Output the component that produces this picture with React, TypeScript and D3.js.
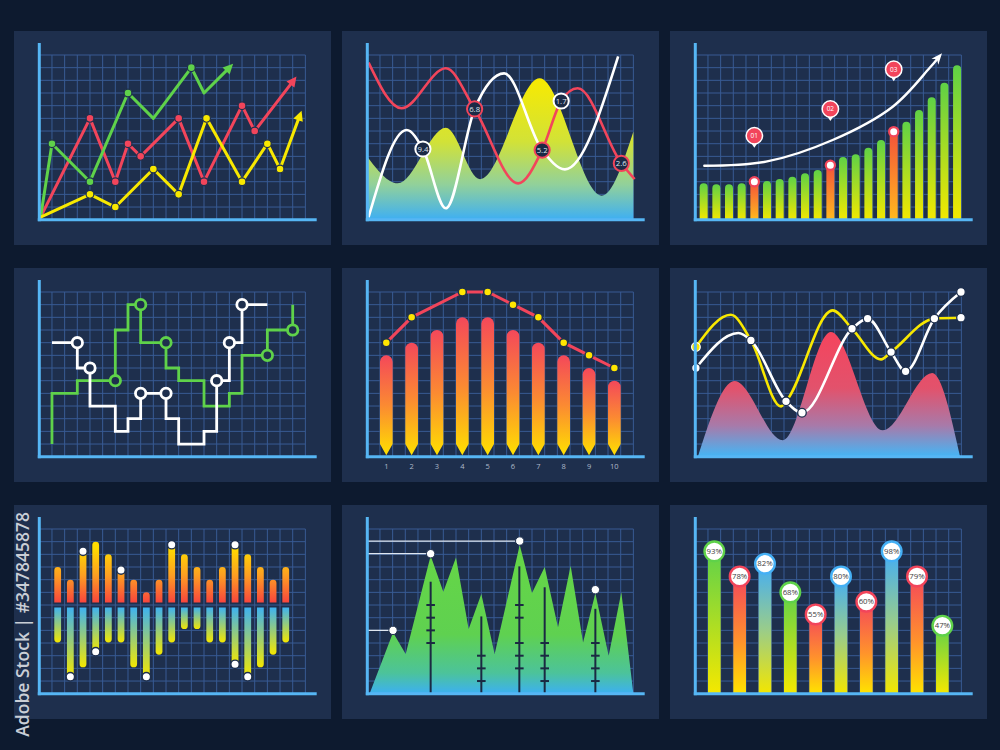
import React from 'react';
import * as d3 from 'd3';

// ---------- layout constants ----------
const W = 1000, H = 750;
const PANEL_W = 317, PANEL_H = 214;
const COLS = [14, 342, 670];
const ROWS = [31, 268, 505];
const GRID_COLS = 21, GRID_ROWS = 13;
const GX0 = 25.3, GY0 = 24, CELL = 12.67;

const PAGE_BG = '#0d1a2f';
const PANEL_BG = '#1e2f4d';
const GRID = '#385b94';
const AXIS = '#56b6f4';
const GREEN = '#5fd24a';
const RED = '#f2455b';
const YELLOW = '#f8e800';
const BLUE = '#45b0f5';

const x = d3.scaleLinear().domain([0, GRID_COLS]).range([GX0, GX0 + GRID_COLS * CELL]);
const y = d3.scaleLinear().domain([0, GRID_ROWS]).range([GY0 + GRID_ROWS * CELL, GY0]);

// ---------- data (grid units) ----------
// Panel 1: arrow line chart
const p1Green = [[0.1, 0.2], [1, 6], [4, 3], [7, 10], [9, 8], [12, 12], [13, 10], [15.3, 12.3]];
const p1GreenDots = [1, 2, 3, 5];
const p1Red = [[0.1, 0.2], [4, 8], [6, 3], [7, 6], [8, 5], [11, 8], [13, 3], [16, 9], [17, 7], [20.3, 11.3]];
const p1RedDots = [1, 2, 3, 4, 5, 6, 7, 8];
const p1Yellow = [[0.1, 0.2], [4, 2], [6, 1], [9, 4], [11, 2], [13.2, 8], [16, 3], [18, 6], [19, 4], [20.7, 8.6]];
const p1YellowDots = [1, 2, 3, 4, 5, 6, 7, 8];

// Panel 2: waves with area
const p2Area = [[0, 4.97], [2.4, 2.87], [6.2, 7.26], [8.9, 3.2], [13.6, 11.16], [18.5, 1.9], [21, 6.95]];
const p2White = [[0.1, 0.2], [3.1, 7.08], [4.39, 5.58], [6.2, 0.9], [8.47, 8.74], [10.8, 11.55], [13.8, 5.5], [15.6, 3.97], [19.8, 12.9]];
const p2Red = [[0.1, 12.4], [2.7, 8.8], [6.2, 11.95], [8.47, 8.74], [11.9, 2.87], [13.8, 5.5], [15.3, 9.37], [16.6, 10.37], [20.05, 4.45], [21.1, 3.2]];
const p2LabelX = [4.39, 8.47, 13.8, 15.3, 20.05];
const p2LabelY = [5.58, 8.74, 5.5, 9.37, 4.45];
const p2LabelText = ['9.4', '6.8', '5.2', '1.7', '2.6'];
const p2LabelRing = ['white', 'red', 'red', 'white', 'red'];

// Panel 3: growth bars
const p3Bars = [2.87, 2.79, 2.79, 2.87, 3.0, 3.05, 3.21, 3.39, 3.66, 3.92, 4.3, 4.95, 5.16, 5.68, 6.29, 6.95, 7.74, 8.66, 9.66, 10.8, 12.2];
const p3Marked = [4, 10, 15];
const p3Trend = [[0.71, 4.26], [5.58, 4.58], [10.84, 6.29], [15.58, 8.92], [18.47, 11.95], [19.47, 13.13]];
const p3PinX = [4.66, 10.66, 15.66];
const p3PinY = [6.63, 8.74, 11.87];
const p3PinText = ['01', '02', '03'];

// Panel 4: step lines
const p4Green = [[1, 1], [1, 5], [3, 5], [3, 6], [6, 6], [6, 10], [7, 10], [7, 12], [8, 12], [8, 9], [10, 9], [10, 7], [11, 7], [11, 6], [13, 6], [13, 4], [15, 4], [15, 5], [16, 5], [16, 8], [18, 8], [18, 10], [20, 10], [20, 12]];
const p4GreenRings = [4, 8, 10, 20, 22];
const p4White = [[1, 9], [3, 9], [3, 7], [4, 7], [4, 4], [6, 4], [6, 2], [7, 2], [7, 3], [8, 3], [8, 5], [10, 5], [10, 3], [11, 3], [11, 1], [13, 1], [13, 2], [14, 2], [14, 6], [15, 6], [15, 9], [16, 9], [16, 12], [18, 12]];
const p4WhiteRings = [1, 3, 10, 11, 18, 20, 22];

// Panel 5: pencil bars with line
const p5Labels = ['1', '2', '3', '4', '5', '6', '7', '8', '9', '10'];
const p5Bars = [8, 9, 10, 11, 11, 10, 9, 8, 7, 6];
const p5LineIdx = [0, 1, 3, 4, 5, 6, 7, 8, 9];
const p5LineVal = [9, 11, 13, 13, 12, 11, 9, 8, 7];

// Panel 6: area + two smooth lines
const p6Area = [[0.2, 0], [3.1, 5.97], [6.9, 1.29], [10.7, 9.84], [14.8, 2.08], [18.7, 6.6], [20.9, 0]];
const p6Yellow = [[0.05, 8.66], [2.8, 11.2], [4.39, 9.18], [6.76, 3.97], [7.16, 4.37], [10.84, 11.55], [12.37, 10.1], [14.66, 7.68], [15.45, 8.26], [18.87, 10.9], [20.97, 10.97]];
const p6White = [[0.05, 7.0], [3.4, 9.76], [4.39, 9.18], [7.16, 4.37], [8.42, 3.47], [12.37, 10.1], [13.6, 10.9], [15.45, 8.26], [16.6, 6.74], [18.87, 10.9], [20.97, 13.0]];
const p6WhiteDots = [0, 2, 3, 4, 5, 6, 7, 8, 9, 10];

// Panel 7: up / down bars
const p7Mid = 7;
const p7Up = [10, 9, 11.24, 12, 11, 9.76, 9, 8, 9, 11.76, 11, 10, 9, 10, 11.76, 11, 10, 9, 10];
const p7UpDots = [2, 5, 9, 14];
const p7Down = [4.05, 1.34, 2.08, 3.32, 4.05, 4.05, 2.08, 1.34, 3.08, 4.05, 5.1, 5.1, 4.05, 4.05, 2.32, 1.34, 2.08, 3.08, 4.05];
const p7DownDots = [1, 3, 7, 14, 15];

// Panel 8: mountains
const p8Area = [[0.18, 0], [2.03, 4.84], [3.03, 3.13], [5, 10.89], [6, 8.05], [7, 10.76], [8, 5.1], [9, 7.87], [10.05, 3.13], [12.03, 11.74], [13, 7.95], [14, 10.0], [15.05, 5.24], [16.05, 10.1], [17.03, 4.05], [18, 7.92], [19.05, 3.0], [20.05, 8.0], [21, 0]];
const p8DotX = [2.03, 5, 12.03, 18];
const p8DotY = [5.0, 11.05, 12.05, 8.21];
const p8LeaderCount = 3;
const p8PoleX = [5, 9, 12, 14, 18];
const p8PoleTop = [8.84, 6.1, 10.05, 8.4, 6.7];
const p8PoleTicks = [[7, 6, 5, 4], [3, 2, 1], [7, 6, 4, 3, 2], [4, 3, 2, 1], [4, 3, 2, 1]];

// Panel 9: percent bars
const p9Labels = ['93%', '78%', '82%', '68%', '55%', '80%', '60%', '98%', '79%', '47%'];
const p9Heights = [11.24, 9.26, 10.26, 8.0, 6.26, 9.26, 7.26, 11.24, 9.26, 5.37];
const p9Kinds = ['g', 'r', 'b', 'g', 'r', 'b', 'r', 'b', 'r', 'g'];

// ---------- helpers ----------
const P = (d: number[]) => [x(d[0]), y(d[1])] as [number, number];

function arrowHead(x0: number, y0: number, x1: number, y1: number, len: number, half: number, notch = 0) {
  const a = Math.atan2(y1 - y0, x1 - x0);
  const c = Math.cos(a), s = Math.sin(a);
  const bx = x1 - len * c, by = y1 - len * s;
  const nx = -s * half, ny = c * half;
  const mx = x1 - len * (1 - notch) * c, my = y1 - len * (1 - notch) * s;
  return `M${x1},${y1}L${bx + nx},${by + ny}L${mx},${my}L${bx - nx},${by - ny}Z`;
}

function topRoundBar(cx: number, top: number, bottom: number, w: number) {
  const r = w / 2;
  return `M${cx - r},${bottom}V${top + r}A${r},${r} 0 0 1 ${cx + r},${top + r}V${bottom}Z`;
}
function bottomRoundBar(cx: number, topFlat: number, bot: number, w: number) {
  const r = w / 2;
  return `M${cx - r},${topFlat}H${cx + r}V${bot - r}A${r},${r} 0 0 1 ${cx - r},${bot - r}Z`;
}
function pencil(cx: number, top: number, shoulder: number, tip: number, w: number) {
  const r = w / 2;
  return `M${cx - r},${shoulder}V${top + r}A${r},${r} 0 0 1 ${cx + r},${top + r}V${shoulder}L${cx},${tip}Z`;
}

const lineLinear = d3.line<[number, number]>();
const lineMono = d3.line<[number, number]>().curve(d3.curveMonotoneX);

function Frame({ px, py, children }: { px: number; py: number; children?: React.ReactNode }) {
  const vs = d3.range(GRID_COLS + 1);
  const hs = d3.range(GRID_ROWS + 1);
  return (
    <g transform={`translate(${px},${py})`}>
      <rect width={PANEL_W} height={PANEL_H} fill={PANEL_BG} />
      <g stroke={GRID} strokeWidth={1} fill="none">
        {vs.map(k => <line key={'v' + k} x1={x(k)} x2={x(k)} y1={y(GRID_ROWS)} y2={y(0)} />)}
        {hs.map(j => <line key={'h' + j} x1={x(0)} x2={x(GRID_COLS)} y1={y(j)} y2={y(j)} />)}
      </g>
      {children}
      <line x1={x(0)} x2={x(0)} y1={12} y2={190.2} stroke={AXIS} strokeWidth={3} />
      <line x1={23.8} x2={302.7} y1={y(0)} y2={y(0)} stroke={AXIS} strokeWidth={3} />
    </g>
  );
}

function ArrowLine({ pts, color, dots }: { pts: number[][]; color: string; dots: number[] }) {
  const px = pts.map(P);
  const n = px.length;
  const [ax, ay] = px[n - 2];
  const [bx, by] = px[n - 1];
  const a = Math.atan2(by - ay, bx - ax);
  const L = 10;
  const short: [number, number][] = [...px.slice(0, n - 1), [bx - L * 0.6 * Math.cos(a), by - L * 0.6 * Math.sin(a)]];
  return (
    <g>
      <path d={lineLinear(short) || ''} fill="none" stroke={color} strokeWidth={3} strokeLinejoin="round" strokeLinecap="round" />
      <path d={arrowHead(ax, ay, bx, by, L, 5)} fill={color} />
      {dots.map(i => <circle key={i} cx={px[i][0]} cy={px[i][1]} r={3.9} fill={color} stroke={PANEL_BG} strokeWidth={1.2} />)}
    </g>
  );
}

function Panel1() {
  return (
    <g>
      <ArrowLine pts={p1Red} color={RED} dots={p1RedDots} />
      <ArrowLine pts={p1Green} color={GREEN} dots={p1GreenDots} />
      <ArrowLine pts={p1Yellow} color={YELLOW} dots={p1YellowDots} />
    </g>
  );
}

function Panel2() {
  const area = d3.area<number[]>().x(d => x(d[0])).y0(y(0)).y1(d => y(d[1])).curve(d3.curveMonotoneX);
  return (
    <g>
      <path d={area(p2Area) || ''} fill="url(#g2area)" />
      <path d={lineMono(p2Red.map(P)) || ''} fill="none" stroke={RED} strokeWidth={2.6} />
      <path d={lineMono(p2White.map(P)) || ''} fill="none" stroke="#ffffff" strokeWidth={2.6} />
      {p2LabelText.map((t, i) => (
        <g key={t} transform={`translate(${x(p2LabelX[i])},${y(p2LabelY[i])})`}>
          <circle r={7.6} fill="#1b2a45" stroke={p2LabelRing[i] === 'white' ? '#ffffff' : RED} strokeWidth={2} />
          <text textAnchor="middle" dy="0.35em" fontSize={7.8} fill="#dde4ee">{t}</text>
        </g>
      ))}
    </g>
  );
}

function Panel3() {
  const w = 8;
  const pts = p3Trend.map(P);
  const n = pts.length;
  const [ax, ay] = pts[n - 2];
  const [bx, by] = pts[n - 1];
  const a = Math.atan2(by - ay, bx - ax);
  const L = 10;
  const curvePts: [number, number][] = [...pts.slice(0, n - 1), [bx - L * 0.6 * Math.cos(a), by - L * 0.6 * Math.sin(a)]];
  const curve = d3.line<[number, number]>().curve(d3.curveCatmullRom.alpha(0.5));
  return (
    <g>
      {p3Bars.map((v, i) => {
        const marked = p3Marked.includes(i);
        const cx = x(i + 0.66);
        return (
          <g key={i}>
            <path d={topRoundBar(cx, y(v), y(0), w)} fill={marked ? 'url(#g3orange)' : 'url(#g3green)'} />
            {marked && <circle cx={cx} cy={y(v)} r={4.6} fill="#ffffff" stroke={RED} strokeWidth={2.2} />}
          </g>
        );
      })}
      <path d={curve(curvePts) || ''} fill="none" stroke="#ffffff" strokeWidth={2.4} strokeLinecap="round" />
      <path d={arrowHead(ax, ay, bx, by, 11, 4.5, 0.3)} fill="#ffffff" />
      {p3PinText.map((t, i) => {
        const cx = x(p3PinX[i]), cy = y(p3PinY[i]);
        return (
          <g key={t} transform={`translate(${cx},${cy})`}>
            <path d="M-4,6 L0,12 L4,6 Z" fill="#ffffff" />
            <circle r={8.2} fill={RED} stroke="#ffffff" strokeWidth={1.5} />
            <text textAnchor="middle" dy="0.35em" fontSize={6.5} fill="#ffffff">{t}</text>
          </g>
        );
      })}
    </g>
  );
}

function Panel4() {
  const ring = (p: number[], color: string, k: string) => (
    <circle key={k} cx={x(p[0])} cy={y(p[1])} r={5.2} fill={PANEL_BG} stroke={color} strokeWidth={2.8} />
  );
  return (
    <g>
      <path d={lineLinear(p4Green.map(P)) || ''} fill="none" stroke={GREEN} strokeWidth={2.8} strokeLinejoin="miter" />
      {p4GreenRings.map(i => ring(p4Green[i], GREEN, 'g' + i))}
      <path d={lineLinear(p4White.map(P)) || ''} fill="none" stroke="#ffffff" strokeWidth={2.8} strokeLinejoin="miter" />
      {p4WhiteRings.map(i => ring(p4White[i], '#ffffff', 'w' + i))}
    </g>
  );
}

function Panel5() {
  const w = CELL;
  const linePts = p5LineIdx.map((idx, k) => [x(1.5 + 2 * idx), y(p5LineVal[k])] as [number, number]);
  return (
    <g>
      {p5Bars.map((v, i) => (
        <path key={i} d={pencil(x(1.5 + 2 * i), y(v), y(1.0), y(0.12), w)} fill="url(#g5pencil)" />
      ))}
      <path d={lineLinear(linePts) || ''} fill="none" stroke={RED} strokeWidth={3} />
      {linePts.map((p, k) => <circle key={k} cx={p[0]} cy={p[1]} r={4} fill="#ffe600" stroke={PANEL_BG} strokeWidth={1.5} />)}
      {p5Labels.map((t, i) => (
        <text key={t} x={x(1.5 + 2 * i)} y={201} textAnchor="middle" fontSize={7.5} fill="#aeb9ca">{t}</text>
      ))}
    </g>
  );
}

function Panel6() {
  const area = d3.area<number[]>().x(d => x(d[0])).y0(y(0)).y1(d => y(d[1])).curve(d3.curveMonotoneX);
  const end = p6Yellow[p6Yellow.length - 1];
  return (
    <g>
      <path d={area(p6Area) || ''} fill="url(#g6area)" />
      <path d={lineMono(p6Yellow.map(P)) || ''} fill="none" stroke={YELLOW} strokeWidth={2.6} />
      <path d={lineMono(p6White.map(P)) || ''} fill="none" stroke="#ffffff" strokeWidth={2.6} />
      <circle cx={x(p6Yellow[0][0])} cy={y(p6Yellow[0][1])} r={4.3} fill={YELLOW} stroke="#ffffff" strokeWidth={1.3} />
      {p6WhiteDots.map(i => (
        <circle key={i} cx={x(p6White[i][0])} cy={y(p6White[i][1])} r={4.3} fill="#ffffff" stroke={PANEL_BG} strokeWidth={1.3} />
      ))}
      <circle cx={x(end[0])} cy={y(end[1])} r={4.3} fill="#ffffff" stroke={PANEL_BG} strokeWidth={1.3} />
    </g>
  );
}

function Panel7() {
  const w = 6.8;
  const cxOf = (i: number) => x(i + 1.45);
  return (
    <g>
      {p7Up.map((v, i) => (
        <path key={'u' + i} d={topRoundBar(cxOf(i), y(v), y(p7Mid + 0.2), w)} fill="url(#g7up)" />
      ))}
      {p7Down.map((v, i) => (
        <path key={'d' + i} d={bottomRoundBar(cxOf(i), y(p7Mid - 0.2), y(v), w)} fill="url(#g7down)" />
      ))}
      {p7UpDots.map(i => <circle key={'ud' + i} cx={cxOf(i)} cy={y(p7Up[i])} r={4.2} fill="#ffffff" stroke={PANEL_BG} strokeWidth={1.4} />)}
      {p7DownDots.map(i => <circle key={'dd' + i} cx={cxOf(i)} cy={y(p7Down[i])} r={4.2} fill="#ffffff" stroke={PANEL_BG} strokeWidth={1.4} />)}
    </g>
  );
}

function Panel8() {
  const area = d3.area<number[]>().x(d => x(d[0])).y0(y(0)).y1(d => y(d[1]));
  return (
    <g>
      <path d={area(p8Area) || ''} fill="url(#g8area)" />
      {p8PoleX.map((px, i) => (
        <g key={i} stroke="#1b2942" strokeWidth={2}>
          <line x1={x(px)} x2={x(px)} y1={y(p8PoleTop[i])} y2={y(0)} />
          {p8PoleTicks[i].map(t => <line key={t} x1={x(px) - 4.3} x2={x(px) + 4.3} y1={y(t)} y2={y(t)} />)}
        </g>
      ))}
      {d3.range(p8LeaderCount).map(i => (
        <line key={'l' + i} x1={x(0)} x2={x(p8DotX[i])} y1={y(p8DotY[i])} y2={y(p8DotY[i])} stroke="#dfe6ef" strokeWidth={1.3} />
      ))}
      {p8DotX.map((dx, i) => (
        <circle key={'c' + i} cx={x(dx)} cy={y(p8DotY[i])} r={4.2} fill="#ffffff" stroke={PANEL_BG} strokeWidth={1} />
      ))}
    </g>
  );
}

function Panel9() {
  const w = CELL;
  const ringColor: Record<string, string> = { g: GREEN, r: RED, b: BLUE };
  return (
    <g>
      {p9Heights.map((v, i) => {
        const cx = x(1.5 + 2 * i);
        const k = p9Kinds[i];
        return (
          <g key={i}>
            <rect x={cx - w / 2} y={y(v)} width={w} height={y(0) - y(v)} fill={`url(#g9${k})`} />
            <circle cx={cx} cy={y(v)} r={9.8} fill="#ffffff" stroke={ringColor[k]} strokeWidth={2.4} />
            <text x={cx} y={y(v)} dy="0.35em" textAnchor="middle" fontSize={7.8} fill="#3d3d3d">{p9Labels[i]}</text>
          </g>
        );
      })}
    </g>
  );
}

function VGrad({ id, stops, user, y1, y2 }: { id: string; stops: [number, string][]; user?: boolean; y1?: number; y2?: number }) {
  return user ? (
    <linearGradient id={id} gradientUnits="userSpaceOnUse" x1={0} x2={0} y1={y1} y2={y2}>
      {stops.map(([o, c], i) => <stop key={i} offset={o} stopColor={c} />)}
    </linearGradient>
  ) : (
    <linearGradient id={id} x1={0} x2={0} y1={0} y2={1}>
      {stops.map(([o, c], i) => <stop key={i} offset={o} stopColor={c} />)}
    </linearGradient>
  );
}

export default function App() {
  return (
    <svg width={W} height={H} style={{ position: 'absolute', left: 0, top: 0, display: 'block' }} fontFamily="'Open Sans', 'DejaVu Sans', sans-serif">
      <defs>
        <VGrad id="g2area" user y1={y(11.2)} y2={y(0)} stops={[[0, '#f8ea00'], [0.45, '#d2e237'], [0.75, '#92d19a'], [1, '#3eaff3']]} />
        <VGrad id="g3green" stops={[[0, '#5fd146'], [1, '#f3e800']]} />
        <VGrad id="g3orange" stops={[[0, '#f4523a'], [1, '#ffba1e']]} />
        <VGrad id="g5pencil" stops={[[0, '#f4485a'], [0.5, '#fb8a32'], [1, '#ffe000']]} />
        <VGrad id="g6area" user y1={y(9.84)} y2={y(0)} stops={[[0, '#f5445d'], [0.45, '#e2526c'], [0.75, '#a87aa9'], [1, '#44b6f6']]} />
        <VGrad id="g7up" user y1={y(11.5)} y2={y(7.2)} stops={[[0, '#ffdc00'], [0.5, '#fd9f22'], [1, '#f8453e']]} />
        <VGrad id="g7down" stops={[[0, '#3eb2f0'], [1, '#f4e700']]} />
        <VGrad id="g8area" user y1={y(11.7)} y2={y(0)} stops={[[0, '#66d646'], [0.6, '#5fd150'], [0.86, '#4cc39a'], [1, '#3cb0f2']]} />
        <VGrad id="g9g" stops={[[0, '#5fd24a'], [1, '#f5e800']]} />
        <VGrad id="g9r" stops={[[0, '#f4475b'], [0.55, '#ff922c'], [1, '#ffe300']]} />
        <VGrad id="g9b" stops={[[0, '#43adf6'], [0.5, '#98cc8c'], [1, '#f3e600']]} />
      </defs>
      <rect width={W} height={H} fill={PAGE_BG} />
      <Frame px={COLS[0]} py={ROWS[0]}><Panel1 /></Frame>
      <Frame px={COLS[1]} py={ROWS[0]}><Panel2 /></Frame>
      <Frame px={COLS[2]} py={ROWS[0]}><Panel3 /></Frame>
      <Frame px={COLS[0]} py={ROWS[1]}><Panel4 /></Frame>
      <Frame px={COLS[1]} py={ROWS[1]}><Panel5 /></Frame>
      <Frame px={COLS[2]} py={ROWS[1]}><Panel6 /></Frame>
      <Frame px={COLS[0]} py={ROWS[2]}><Panel7 /></Frame>
      <Frame px={COLS[1]} py={ROWS[2]}><Panel8 /></Frame>
      <Frame px={COLS[2]} py={ROWS[2]}><Panel9 /></Frame>
      <text transform="translate(29,512) rotate(-90)" textAnchor="end" fontSize={17.5} fontWeight={600} fill="#c9ced6">Adobe Stock | #347845878</text>
    </svg>
  );
}
